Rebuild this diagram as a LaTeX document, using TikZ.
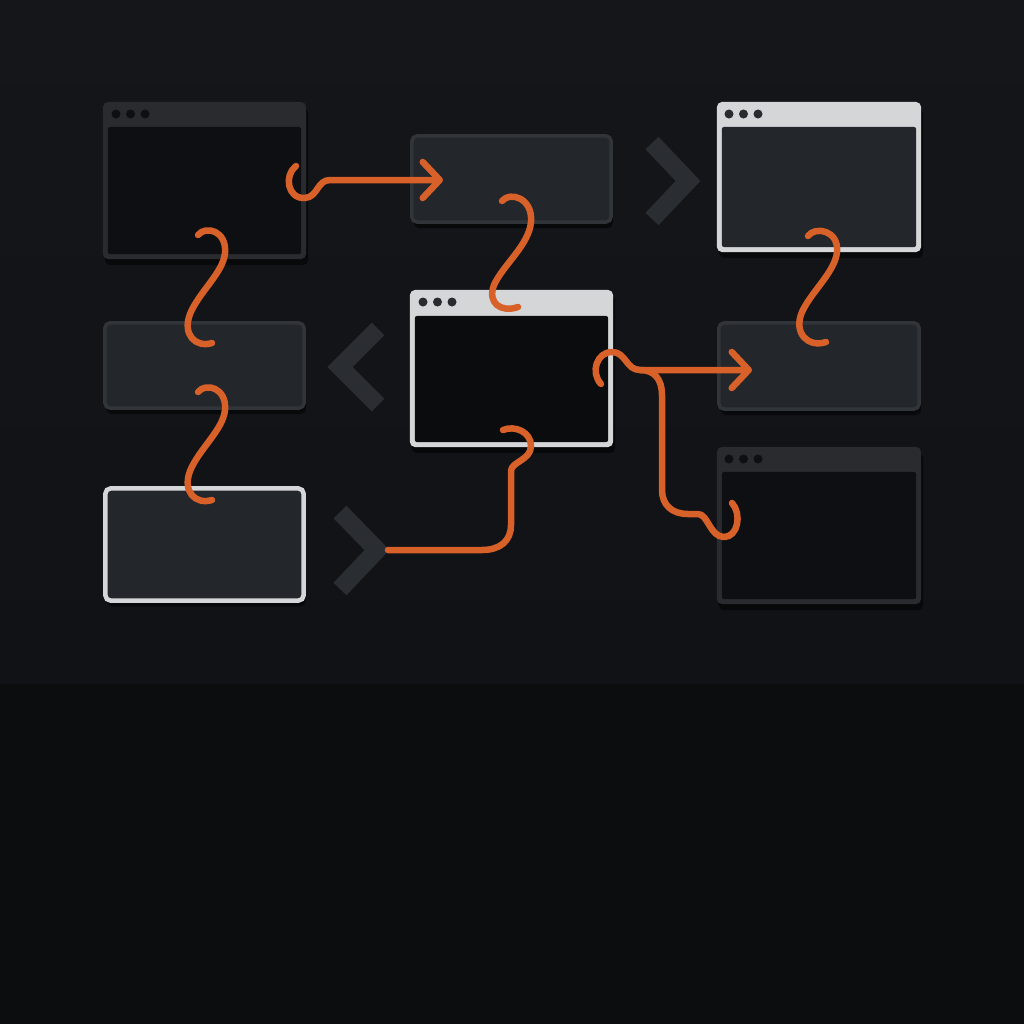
\documentclass[tikz,border=0pt]{standalone}
\usetikzlibrary{arrows.meta,shadows}
\definecolor{bgtop}{HTML}{141619}
\definecolor{bgmid}{HTML}{101215}
\definecolor{bgbot}{HTML}{0C0D0F}
\definecolor{framedark}{HTML}{292B2F}
\definecolor{bodydark}{HTML}{0E0F12}
\definecolor{bodyblack}{HTML}{0B0C0E}
\definecolor{framelight}{HTML}{D5D6D8}
\definecolor{panelfill}{HTML}{23262A}
\definecolor{paneledge}{HTML}{313438}
\definecolor{chevgray}{HTML}{2A2D31}
\definecolor{hookorange}{HTML}{D8612A}

\begin{document}
\begin{tikzpicture}[x=0.01cm,y=-0.01cm,>={Straight Barb[length=1.7mm,width=3.6mm,round]}]
 \tikzstyle{dark frame}=[rectangle,inner sep=0,rounded corners=0.05cm,fill=framedark,drop shadow={fill=black,shadow xshift=0.02cm,shadow yshift=-0.06cm,opacity=0.55}]
 \tikzstyle{light frame}=[rectangle,inner sep=0,rounded corners=0.05cm,fill=framelight,drop shadow={fill=black,shadow xshift=0.02cm,shadow yshift=-0.06cm,opacity=0.55}]
 \tikzstyle{panel node}=[rectangle,inner sep=0,rounded corners=0.05cm,fill=panelfill,draw=paneledge,line width=0.035cm,drop shadow={fill=black,shadow xshift=0.02cm,shadow yshift=-0.06cm,opacity=0.55}]
 \tikzset{
 	dark body/.style={rectangle,inner sep=0,rounded corners=0.02cm,fill=bodydark},
 	black body/.style={rectangle,inner sep=0,rounded corners=0.02cm,fill=bodyblack},
 	gray body/.style={rectangle,inner sep=0,rounded corners=0.02cm,fill=panelfill},
 	lit panel/.style={panel node,draw=framelight,line width=0.045cm},
 	dot dark/.style={fill=bodydark},
 	dot light/.style={fill=framedark},
 	chevron line/.style={draw=chevgray,line width=0.18cm,line join=miter},
 	hook line/.style={draw=hookorange,line width=0.065cm,line cap=round,line join=round}
 }

 % background
 \shade[top color=bgtop,bottom color=bgmid] (0,0) rectangle (1024,684);
 \fill[bgbot] (0,684) rectangle (1024,1024);
 \useasboundingbox (0,0) rectangle (1024,1024);

 % windows and panels
 \node[dark frame,minimum width=2.03cm,minimum height=1.57cm] (W1) at (204.5,180.5) {};
 \node[dark body,minimum width=1.93cm,minimum height=1.27cm] (W1b) at (204.5,190.5) {};
 \node[panel node,minimum width=1.99cm,minimum height=0.86cm] (P1) at (511.5,179) {};
 \node[light frame,minimum width=2.04cm,minimum height=1.50cm] (W2) at (819,177) {};
 \node[gray body,minimum width=1.94cm,minimum height=1.20cm] (W2b) at (819,187) {};
 \node[panel node,minimum width=1.99cm,minimum height=0.85cm] (P2) at (204.5,365.5) {};
 \node[light frame,minimum width=2.03cm,minimum height=1.57cm] (W3) at (511.5,368.5) {};
 \node[black body,minimum width=1.93cm,minimum height=1.26cm] (W3b) at (511.5,379) {};
 \node[panel node,minimum width=2.00cm,minimum height=0.86cm] (P3) at (819,366) {};
 \node[lit panel,minimum width=1.98cm,minimum height=1.12cm] (P4) at (204.5,544.5) {};
 \node[dark frame,minimum width=2.04cm,minimum height=1.57cm] (W4) at (819,525.5) {};
 \node[dark body,minimum width=1.94cm,minimum height=1.27cm] (W4b) at (819,535.5) {};

 \foreach \k in {0,1,2} {
   \fill[dot dark] (116+14.5*\k,114) circle (0.045cm);
   \fill[dot light] (423+14.5*\k,302) circle (0.045cm);
   \fill[dot light] (729+14.5*\k,114) circle (0.045cm);
   \fill[dot dark] (729+14.5*\k,459) circle (0.045cm);
 }

 % chevrons
 \draw[chevron line] (652,143) -- (688,181) -- (652,219);
 \draw[chevron line] (378,329) -- (340,367) -- (378,405);
 \draw[chevron line] (340,512) -- (377,550) -- (340,589);
 \coordinate (ch3) at (388,550);

 % hook ends
 \coordinate (a1) at (296,166);  \coordinate (a2) at (443,180);
 \coordinate (b1) at (198,235);  \coordinate (b2) at (212,343);
 \coordinate (c1) at (198,392);  \coordinate (c2) at (212,500);
 \coordinate (d1) at (502,201);  \coordinate (d2) at (518,307);
 \coordinate (e1) at (808,236);  \coordinate (e2) at (826,342);
 \coordinate (f1) at (601,384);  \coordinate (f2) at (752,370);
 \coordinate (fj) at (640,370);  \coordinate (f3) at (732,503);
 \coordinate (g1) at (503,430);

 % connectors
 \draw[hook line,->] (a1) .. controls (284,175) and (287,199) .. (305,198)
    .. controls (318,197) and (317,180) .. (330,180) -- (a2);
 \draw[hook line] (b1) .. controls (206,225) and (227,231) .. (225,253)
    .. controls (223,273) and (199,292) .. (190,314) .. controls (182,335) and (196,348) .. (b2);
 \draw[hook line] (c1) .. controls (206,382) and (227,388) .. (225,410)
    .. controls (223,430) and (199,449) .. (190,471) .. controls (182,492) and (196,505) .. (c2);
 \draw[hook line] (d1) .. controls (510,191) and (533,198) .. (531,222)
    .. controls (529,245) and (503,265) .. (494,285) .. controls (487,303) and (501,313) .. (d2);
 \draw[hook line] (e1) .. controls (815,226) and (839,230) .. (837,252)
    .. controls (835,272) and (811,292) .. (802,312) .. controls (793,333) and (808,348) .. (e2);
 \draw[hook line,->] (f1) .. controls (590,372) and (597,352) .. (612,352)
    .. controls (626,352) and (626,370) .. (fj) -- (f2);
 \draw[hook line] (fj) .. controls (655,370) and (662,380) .. (662,395) -- (662,490)
    .. controls (662,505) and (672,514) .. (688,514) -- (698,514)
    .. controls (708,514) and (710,537) .. (724,537) .. controls (738,537) and (742,514) .. (f3);
 \draw[hook line] (ch3) -- (482,550) .. controls (500,550) and (511,541) .. (511,525) -- (511,471)
    .. controls (511,462) and (531,460) .. (531,446) .. controls (531,432) and (515,425) .. (g1);
\end{tikzpicture}
\end{document}
